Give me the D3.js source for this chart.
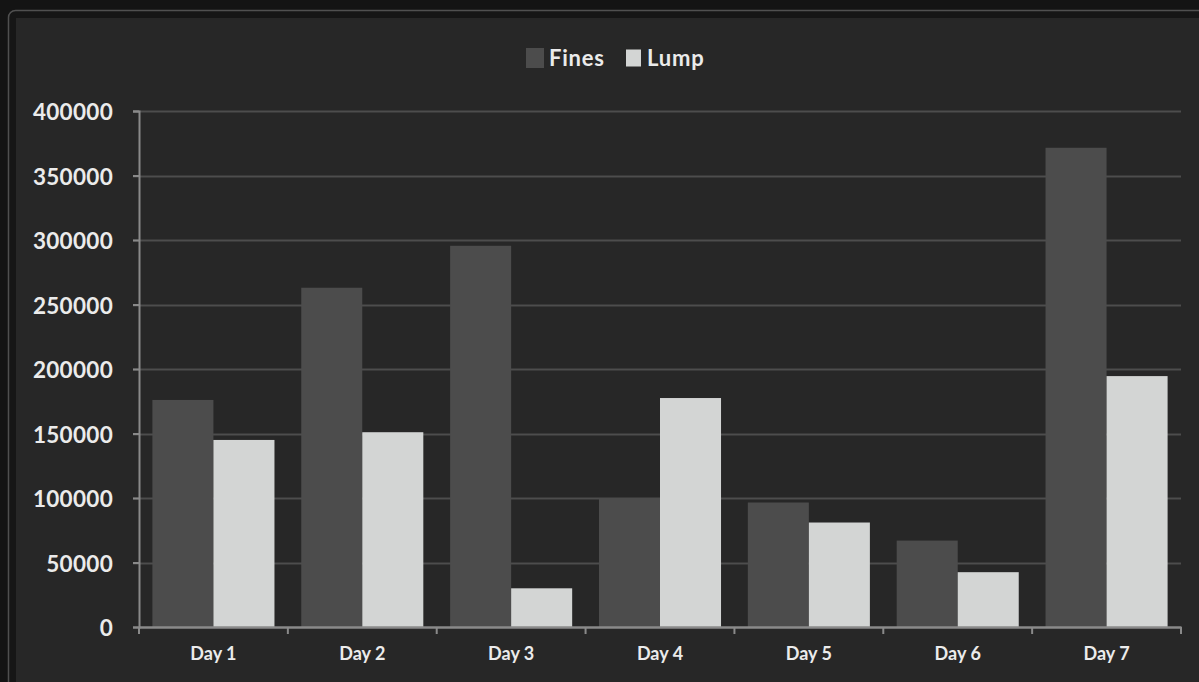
<!DOCTYPE html>
<html>
<head>
<meta charset="utf-8">
<script src="https://cdn.jsdelivr.net/npm/d3@7"></script>
<style>
  html, body { margin: 0; padding: 0; background: #141414; }
  svg { display: block; }
  text { font-family: Lato, "Open Sans", sans-serif; font-weight: bold; fill: #ebebeb; }
</style>
</head>
<body>
<svg id="chart" width="1199" height="682"></svg>
<script>
// data
let days = ["Day 1", "Day 2", "Day 3", "Day 4", "Day 5", "Day 6", "Day 7"];
let fines = [176000, 263000, 295500, 100000, 96500, 67000, 371500];
let lump = [145000, 151000, 30000, 177500, 81000, 42500, 194500];
let seriesNames = ["Fines", "Lump"];
let yTicks = [0, 50000, 100000, 150000, 200000, 250000, 300000, 350000, 400000];

let colors = { Fines: "#4c4c4c", Lump: "#d3d5d4" };

let svg = d3.select("#chart");
let width = +svg.attr("width");
let height = +svg.attr("height");

// panel frame
svg.append("rect")
    .attr("x", 8.5).attr("y", 10.5)
    .attr("width", width + 20).attr("height", height + 20)
    .attr("rx", 7)
    .attr("fill", "#161616")
    .attr("stroke", "#505050")
    .attr("stroke-width", 1.5);
svg.append("rect")
    .attr("x", 16).attr("y", 18)
    .attr("width", width).attr("height", height)
    .attr("fill", "#272727");

let margin = { left: 139, right: 18, top: 111, bottom: 55 };
let plotW = 1181 - margin.left;
let plotH = 627 - margin.top;

let g = svg.append("g").attr("transform", `translate(${margin.left},${margin.top})`);

let x = d3.scaleBand().domain(days).range([0, plotW]).paddingInner(0.18).paddingOuter(0.09);
let xs = d3.scaleBand().domain(seriesNames).range([0, x.bandwidth()]);
let y = d3.scaleLinear().domain([0, 400000]).range([plotH, 0]);

//? gridlines
g.append("g")
    .selectAll("line")
    .data(yTicks.filter(d => d > 0))
    .enter()
    .append("line")
    .attr("x1", -6).attr("x2", plotW)
    .attr("y1", d => Math.round(y(d)) + 0.5)
    .attr("y2", d => Math.round(y(d)) + 0.5)
    .attr("stroke", "#4d4d4d")
    .attr("stroke-width", 2);

//? bars
let rows = days.map((d, i) => ({ day: d, Fines: fines[i], Lump: lump[i] }));
g.append("g")
    .selectAll("g")
    .data(rows)
    .enter()
    .append("g")
    .attr("transform", d => `translate(${x(d.day)},0)`)
    .selectAll("rect")
    .data(d => seriesNames.map(k => ({ key: k, value: d[k] })))
    .enter()
    .append("rect")
    .attr("x", d => xs(d.key))
    .attr("width", xs.bandwidth())
    .attr("y", d => y(d.value))
    .attr("height", d => plotH - y(d.value))
    .attr("fill", d => colors[d.key]);

//? y axis
let yAxis = g.append("g")
    .call(d3.axisLeft(y).tickValues(yTicks).tickSize(6).tickPadding(20).tickFormat(d3.format("d")));
yAxis.select(".domain").attr("stroke", "#8a8a8a").attr("stroke-width", 2);
yAxis.selectAll(".tick line").attr("stroke", "#8a8a8a").attr("stroke-width", 2);
yAxis.selectAll("text")
    .attr("font-size", 22.5)
    .attr("letter-spacing", 0.3)
    .attr("dy", "0.38em")
    .attr("fill", "#ebebeb");

//? x axis
let xAxis = g.append("g")
    .attr("transform", `translate(0,${plotH})`)
    .call(d3.axisBottom(x).tickSize(0).tickPadding(20));
xAxis.select(".domain").attr("stroke", "#8a8a8a").attr("stroke-width", 2.5);
xAxis.selectAll("text").attr("font-size", 18).attr("fill", "#ebebeb");

// boundary ticks between categories
let bounds = d3.range(days.length + 1).map(i => i * plotW / days.length);
xAxis.append("g")
    .selectAll("line")
    .data(bounds)
    .enter()
    .append("line")
    .attr("x1", d => d).attr("x2", d => d)
    .attr("y1", 0).attr("y2", 7)
    .attr("stroke", "#8a8a8a")
    .attr("stroke-width", 2);

//? legend
let legend = svg.append("g").attr("transform", "translate(526,48)");
let legendItems = [
    { key: "Fines", x: 0, w: 18, h: 20, tx: 23 },
    { key: "Lump", x: 100, w: 15, h: 17, tx: 21 }
];
legend.selectAll("rect")
    .data(legendItems)
    .enter()
    .append("rect")
    .attr("x", d => d.x)
    .attr("y", d => (20 - d.h) / 2)
    .attr("width", d => d.w)
    .attr("height", d => d.h)
    .attr("fill", d => colors[d.key]);
legend.selectAll("text")
    .data(legendItems)
    .enter()
    .append("text")
    .attr("x", d => d.x + d.tx)
    .attr("y", 10)
    .attr("dy", "0.38em")
    .attr("font-size", 22)
    .attr("letter-spacing", 0.8)
    .text(d => d.key);
</script>
</body>
</html>
